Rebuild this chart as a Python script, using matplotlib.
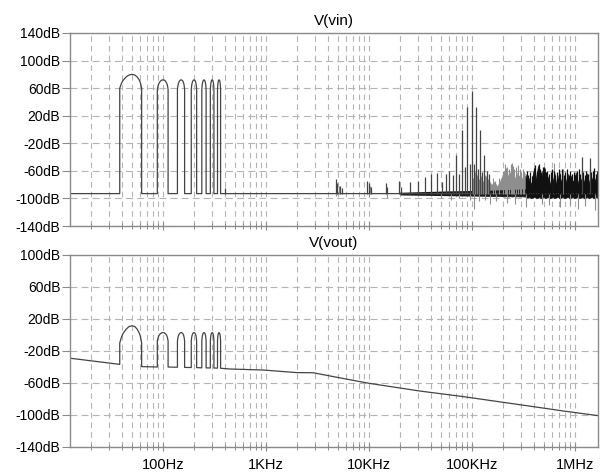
import matplotlib
matplotlib.use("Agg")
import matplotlib.pyplot as plt

plt.rcParams['font.family'] = ['Liberation Sans', 'DejaVu Sans']
plt.rcParams['lines.scale_dashes'] = False

# ---------------- data ----------------
F_MIN, F_MAX = 12.5, 1.67e6

# tone bursts (Hz): shared frequency points for each hump
hump_freq = [
    [38, 38, 39.5, 41, 44, 47, 50, 53, 56, 59, 60.5, 62, 62],
    [88, 88, 89.5, 91, 94, 97, 100, 103, 106, 109, 110.5, 112, 112],
    [138, 138, 139.5, 141, 144, 147, 150, 153, 156, 159, 160.5, 162, 162],
    [188, 188, 189.5, 191, 194, 197, 200, 203, 206, 209, 210.5, 212, 212],
    [238, 238, 239.5, 241, 244, 247, 250, 253, 256, 259, 260.5, 262, 262],
    [288, 288, 289.5, 291, 294, 297, 300, 303, 306, 309, 310.5, 312, 312],
    [338, 338, 339.5, 341, 344, 347, 350, 353, 356, 359, 360.5, 362, 362],
]
vin_hump_db = [
    [-93, 60, 67, 71.5, 76.5, 79.2, 80, 79.2, 76.5, 71.5, 67, 60, -93],
    [-93, 58, 63.5, 66.5, 70, 71.6, 72, 71.6, 70, 66.5, 63.5, 58, -93],
    [-93, 58, 63.5, 66.5, 70, 71.6, 72, 71.6, 70, 66.5, 63.5, 58, -93],
    [-93, 58, 63.5, 66.5, 70, 71.6, 72, 71.6, 70, 66.5, 63.5, 58, -93],
    [-93, 58, 63.5, 66.5, 70, 71.6, 72, 71.6, 70, 66.5, 63.5, 58, -93],
    [-93, 58, 63.5, 66.5, 70, 71.6, 72, 71.6, 70, 66.5, 63.5, 58, -93],
    [-93, 58, 63.5, 66.5, 70, 71.6, 72, 71.6, 70, 66.5, 63.5, 58, -93],
]
vout_hump_db = [
    [-36.7, -10, -2.5, 2, 7.5, 10.7, 11.5, 10.7, 7.5, 2, -2.5, -10, -39.5],
    [-40.0, -7.5, -3.5, -1, 1.5, 2.7, 3, 2.7, 1.5, -1, -3.5, -7.5, -40.0],
    [-40.3, -7.5, -3.5, -1, 1.5, 2.7, 3, 2.7, 1.5, -1, -3.5, -7.5, -40.5],
    [-40.7, -7.5, -3.5, -1, 1.5, 2.7, 3, 2.7, 1.5, -1, -3.5, -7.5, -40.8],
    [-41.0, -7.5, -3.5, -1, 1.5, 2.7, 3, 2.7, 1.5, -1, -3.5, -7.5, -41.1],
    [-41.2, -7.5, -3.5, -1, 1.5, 2.7, 3, 2.7, 1.5, -1, -3.5, -7.5, -41.3],
    [-41.4, -7.5, -3.5, -1, 1.5, 2.7, 3, 2.7, 1.5, -1, -3.5, -7.5, -41.6],
]

# V(vin) floor and discrete spikes
vin_floor_db = -93
vin_spike_f = [403, 4800, 4900, 5200, 5500, 9600, 10000, 10400, 14600, 15000,
               19700, 20300, 24800, 29900, 35000, 40100, 45500, 50800, 56000,
               60000, 65000, 70000, 75000, 80000, 85000, 90000, 95000, 100000,
               105000, 110000, 115000, 120000, 125000, 130000, 140000, 147000,
               1.17e6, 1.40e6]
vin_spike_top = [-85, -72.5, -77.7, -81.6, -85, -74.5, -78, -84, -78, -84,
                 -74.5, -83, -75.8, -74.5, -68.7, -64.9, -63, -76, -65,
                 -60, -66, -37, -64, 0, -55, 32, -50, 56,
                 -50, 32, -58, 0, -62, -37, -60, -64,
                 -40, -42]
# lighter grey spikes (100k-330k and a few in the dense band)
grey_spike_f = [5100, 10200, 102e3, 107e3, 112e3, 117e3, 122e3, 127e3, 133e3,
                138e3, 142e3, 158e3, 168e3, 182e3, 198e3, 208e3, 212e3, 218e3,
                228e3, 238e3, 242e3, 248e3, 258e3, 270e3, 278e3, 290e3, 300e3,
                310e3, 320e3, 626e3, 760e3]
grey_spike_top = [-82, -82, -70, -62, -66, -72, -68, -74, -66,
                  -68, -72, -70, -74, -70, -60, -50, -56, -54,
                  -58, -50, -48, -53, -58, -54, -52, -58, -62,
                  -58, -60, -49, -58]
vin_dip_f = [4800, 10000, 15000, 50000, 62000, 75000, 96000, 104000, 118000,
             135000, 150000, 170000, 220000, 260000, 337000, 476000, 560000,
             720000, 900000, 1.07e6, 1.25e6, 1.56e6, 1.66e6]
vin_dip_bot = [-97, -98, -100, -100, -102, -100, -103, -115, -104,
               -102, -108, -104, -106, -108, -112, -108, -110,
               -112, -110, -115, -111, -117, -122]

# dense noise floor thickening
floor_f = [20000, 60000, 150000, 330000]
floor_hi = [-91, -89, -88, -86]
floor_lo = [-95, -96, -97, -97]

# grey noise band (135k-330k)
grey_f = [135e3, 145e3, 155e3, 165e3, 175e3, 185e3, 195e3, 205e3, 215e3, 225e3,
          235e3, 245e3, 255e3, 265e3, 275e3, 285e3, 295e3, 305e3, 315e3, 330e3]
grey_hi = [-78, -74, -80, -76, -82, -76, -68, -60, -58, -68,
           -62, -56, -66, -72, -62, -68, -64, -72, -66, -68]
grey_lo = [-96, -96, -97, -96, -97, -96, -97, -98, -97, -98,
           -97, -98, -97, -98, -97, -98, -98, -97, -98, -98]

# black noise band (330k-1.67M)
black_f = [330e3, 345e3, 360e3, 375e3, 390e3, 405e3, 420e3, 435e3, 450e3, 465e3,
           480e3, 495e3, 510e3, 530e3, 550e3, 570e3, 590e3, 610e3, 630e3, 655e3,
           680e3, 705e3, 730e3, 760e3, 790e3, 820e3, 850e3, 880e3, 915e3, 950e3,
           985e3, 1.02e6, 1.06e6, 1.10e6, 1.14e6, 1.18e6, 1.225e6, 1.27e6, 1.315e6,
           1.36e6, 1.41e6, 1.46e6, 1.51e6, 1.56e6, 1.61e6, 1.67e6]
black_hi = [-64, -78, -70, -80, -62, -55, -72, -52, -66, -75,
            -60, -64, -56, -76, -68, -80, -66, -74, -62, -78,
            -70, -61, -76, -66, -80, -73, -64, -77, -67, -75,
            -72, -62, -78, -68, -74, -65, -76, -70, -63,
            -78, -66, -73, -62, -75, -66, -72]
black_lo = [-98, -99, -98, -100, -99, -98, -100, -99, -98, -100,
            -99, -98, -100, -99, -98, -100, -99, -98, -100, -99,
            -98, -100, -99, -98, -100, -99, -98, -100, -99, -98,
            -100, -99, -98, -100, -99, -98, -100, -99, -98,
            -100, -99, -98, -100, -99, -98, -100]
black_spike_f = [340e3, 352e3, 368e3, 383e3, 398e3, 412e3, 428e3, 442e3, 458e3,
                 472e3, 488e3, 502e3, 520e3, 540e3, 560e3, 580e3, 600e3, 620e3,
                 642e3, 668e3, 692e3, 718e3, 745e3, 775e3, 805e3, 835e3, 865e3,
                 898e3, 932e3, 968e3, 1.0e6, 1.04e6, 1.08e6, 1.12e6, 1.16e6,
                 1.2e6, 1.25e6, 1.29e6, 1.34e6, 1.385e6, 1.435e6, 1.485e6,
                 1.535e6, 1.585e6, 1.64e6]
black_spike_top = [-60, -66, -62, -68, -56, -52, -60, -50, -58,
                   -62, -55, -54, -62, -60, -64, -62, -58, -60,
                   -66, -62, -58, -64, -58, -66, -62, -58, -66,
                   -60, -64, -62, -66, -60, -58, -64, -60,
                   -62, -66, -60, -64, -58, -62, -60,
                   -56, -64, -60]

# V(vout) continuous response
vout_start_f, vout_start_db = [12.5], [-29]
vout_tail_f = [447, 942, 1986, 2877, 4500, 10000, 31000, 82000, 391000, 770000, 1.67e6]
vout_tail_db = [-42.5, -43.8, -47, -47.2, -52, -60.4, -70, -77, -89.5, -95, -100.8]

vin_yticks = [140, 100, 60, 20, -20, -60, -100, -140]
vout_yticks = [100, 60, 20, -20, -60, -100, -140]
x_major = [100, 1e3, 1e4, 1e5, 1e6]
x_labels = ["100Hz", "1KHz", "10KHz", "100KHz", "1MHz"]

# ---------------- plotting ----------------
TRACE = '#444444'
LIGHT = '#8e8e8e'
GRID = '#b4b4b4'
FRAME = '#8a8a8a'

fig = plt.figure(figsize=(6, 4.75), dpi=100)
ax1 = fig.add_axes([70/600, 1-226/475, 528/600, 193/475])
ax2 = fig.add_axes([70/600, 1-447/475, 528/600, 192/475])

minor = [m * 10**d for d in range(1, 7) for m in range(2, 10)]
minor = [v for v in minor if F_MIN < v < F_MAX]


def style(ax, yticks, title, show_x):
    ax.set_xscale('log')
    ax.set_xlim(F_MIN, F_MAX)
    ax.set_ylim(min(yticks), max(yticks))
    ax.set_yticks(yticks)
    ax.set_yticklabels([f"{v}dB" for v in yticks])
    ax.set_xticks(x_major)
    ax.set_xticks(minor, minor=True)
    if show_x:
        ax.set_xticklabels(x_labels)
    else:
        ax.set_xticklabels([])
    ax.xaxis.set_minor_formatter(plt.NullFormatter())
    ax.grid(True, which='both', axis='x', color=GRID, lw=0.8, linestyle=(0, (4, 3)))
    ax.grid(True, which='major', axis='y', color=GRID, lw=0.8, linestyle=(0, (5, 3)))
    ax.set_axisbelow(True)
    for s in ax.spines.values():
        s.set_color(FRAME)
        s.set_linewidth(1.0)
    ax.tick_params(axis='y', which='major', direction='out', length=6, width=0.8,
                   color=FRAME, pad=1, labelsize=10, labelcolor='black')
    ax.tick_params(axis='x', which='major', direction='inout', length=6, width=0.8,
                   color=FRAME, pad=5, labelsize=10.5, labelcolor='black')
    ax.tick_params(axis='x', which='minor', direction='inout', length=4, width=0.7,
                   color=FRAME)
    ax.set_title(title, fontsize=11, pad=6)


# ---- V(vin)
style(ax1, vin_yticks, 'V(vin)', False)
vin_f = [F_MIN]
vin_db = [vin_floor_db]
for f, d in zip(hump_freq, vin_hump_db):
    vin_f += f
    vin_db += d
vin_f += [F_MAX]
vin_db += [vin_floor_db]
ax1.plot(vin_f, vin_db, color=TRACE, lw=0.9)
ax1.fill_between(grey_f, grey_lo, grey_hi, color=LIGHT, lw=0.3, edgecolor=LIGHT)
ax1.vlines(grey_spike_f, vin_floor_db, grey_spike_top, color=LIGHT, lw=0.8)
ax1.fill_between(black_f, black_lo, black_hi, color='#111111', lw=0.3, edgecolor='#111111')
ax1.vlines(black_spike_f, vin_floor_db, black_spike_top, color='#111111', lw=0.9)
ax1.fill_between(floor_f, floor_lo, floor_hi, color='#1a1a1a', lw=0)
ax1.vlines(vin_spike_f, vin_floor_db, vin_spike_top, color=TRACE, lw=0.9)
ax1.vlines(vin_dip_f, vin_dip_bot, vin_floor_db, color=LIGHT, lw=0.8)

# ---- V(vout)
style(ax2, vout_yticks, 'V(vout)', True)
vout_f = list(vout_start_f)
vout_db = list(vout_start_db)
for f, d in zip(hump_freq, vout_hump_db):
    vout_f += f
    vout_db += d
vout_f += vout_tail_f
vout_db += vout_tail_db
ax2.plot(vout_f, vout_db, color=TRACE, lw=0.9)

fig.savefig('out.png', dpi=100)
